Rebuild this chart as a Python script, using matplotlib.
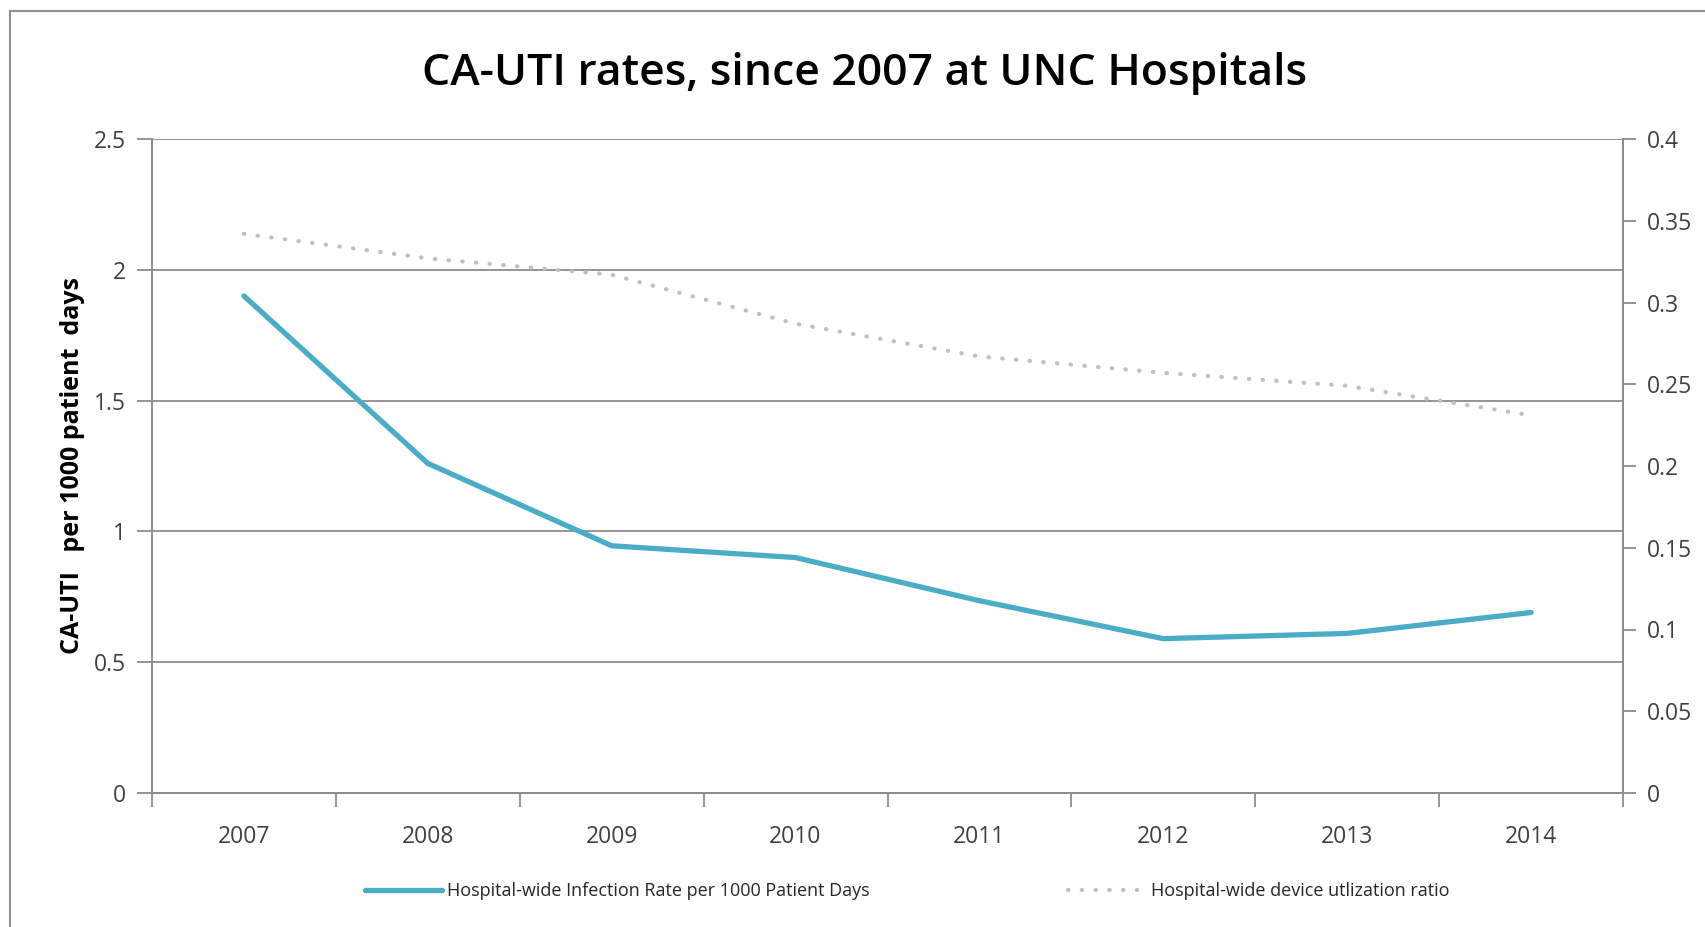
import matplotlib as mpl
mpl.use('Agg')
import matplotlib.pyplot as plt
import numpy as np
from matplotlib.patches import Rectangle

years = ['2007', '2008', '2009', '2010', '2011', '2012', '2013', '2014']
infection_rate = [1.90, 1.26, 0.945, 0.90, 0.735, 0.59, 0.61, 0.69]
device_ratio = [0.342, 0.327, 0.317, 0.287, 0.267, 0.257, 0.249, 0.231]

left_ticks = [0, 0.5, 1, 1.5, 2, 2.5]
right_ticks = [0, 0.05, 0.1, 0.15, 0.2, 0.25, 0.3, 0.35, 0.4]

BLUE = '#4BACC6'
DOTS = '#C0C0C0'
GRID = '#8C8C8C'
TXT = '#404040'

plt.rcParams['font.family'] = ['Open Sans', 'DejaVu Sans']

fig = plt.figure(figsize=(17.05, 9.27), dpi=100)
ax = fig.add_axes([152 / 1705, 1 - 793 / 927, (1623 - 152) / 1705, (793 - 139) / 927])
ax2 = ax.twinx()

x = np.arange(len(years))
l1, = ax.plot(x, infection_rate, color=BLUE, lw=3.8, solid_capstyle='round',
              label='Hospital-wide Infection Rate per 1000 Patient Days', zorder=3)
l2, = ax2.plot(x, device_ratio, color=DOTS, lw=3.0, linestyle=(0, (0.1, 3.2)),
               dash_capstyle='round',
               label='Hospital-wide device utlization ratio', zorder=2)

ax.set_xlim(-0.5, len(years) - 0.5)
ax.set_ylim(0, 2.5)
ax2.set_ylim(0, 0.4)

ax.set_yticks(left_ticks)
ax.set_yticklabels([f'{v:g}' for v in left_ticks])
ax2.set_yticks(right_ticks)
ax2.set_yticklabels([f'{v:g}' for v in right_ticks])

ax.set_xticks(x)
ax.set_xticklabels(years)
ax.set_xticks(np.arange(-0.5, len(years)), minor=True)
ax.tick_params(axis='x', which='major', length=0, pad=23, labelsize=16.5, labelcolor=TXT)
ax.tick_params(axis='x', which='minor', length=10, width=1.3, color=GRID, direction='out')
ax.tick_params(axis='y', length=11, width=1.3, color=GRID, pad=8, labelsize=16.5, labelcolor=TXT)
ax2.tick_params(axis='y', length=9, width=1.3, color=GRID, pad=8, labelsize=16.5, labelcolor=TXT)

ax.yaxis.grid(True, color=GRID, lw=1.3)
ax.set_axisbelow(True)

for a in (ax, ax2):
    a.spines['top'].set_visible(False)
    for s in ('left', 'right', 'bottom'):
        a.spines[s].set_color(GRID)
        a.spines[s].set_linewidth(1.3)

ax.set_ylabel('CA-UTI   per 1000 patient  days', fontsize=18, fontweight='bold',
              color='black', labelpad=6)

fig.text(0.507, 0.908, 'CA-UTI rates, since 2007 at UNC Hospitals', ha='center',
         va='baseline', fontsize=32, fontweight='semibold', color='black')

leg = fig.legend(handles=[l1, l2], loc='center', bbox_to_anchor=(0.532, 0.039), ncol=2,
                 frameon=False, handlelength=4.25, columnspacing=11,
                 handletextpad=0.3,
                 prop={'family': ['Open Sans', 'DejaVu Sans'], 'size': 13})
for t in leg.get_texts():
    t.set_color('#262626')

fig.patches.append(Rectangle((10 / 1705, -0.05), 1.2, 1 - 11 / 927 + 0.05,
                             transform=fig.transFigure, fill=False,
                             edgecolor='#909090', lw=1.5))

fig.savefig('out.png', dpi=100)
